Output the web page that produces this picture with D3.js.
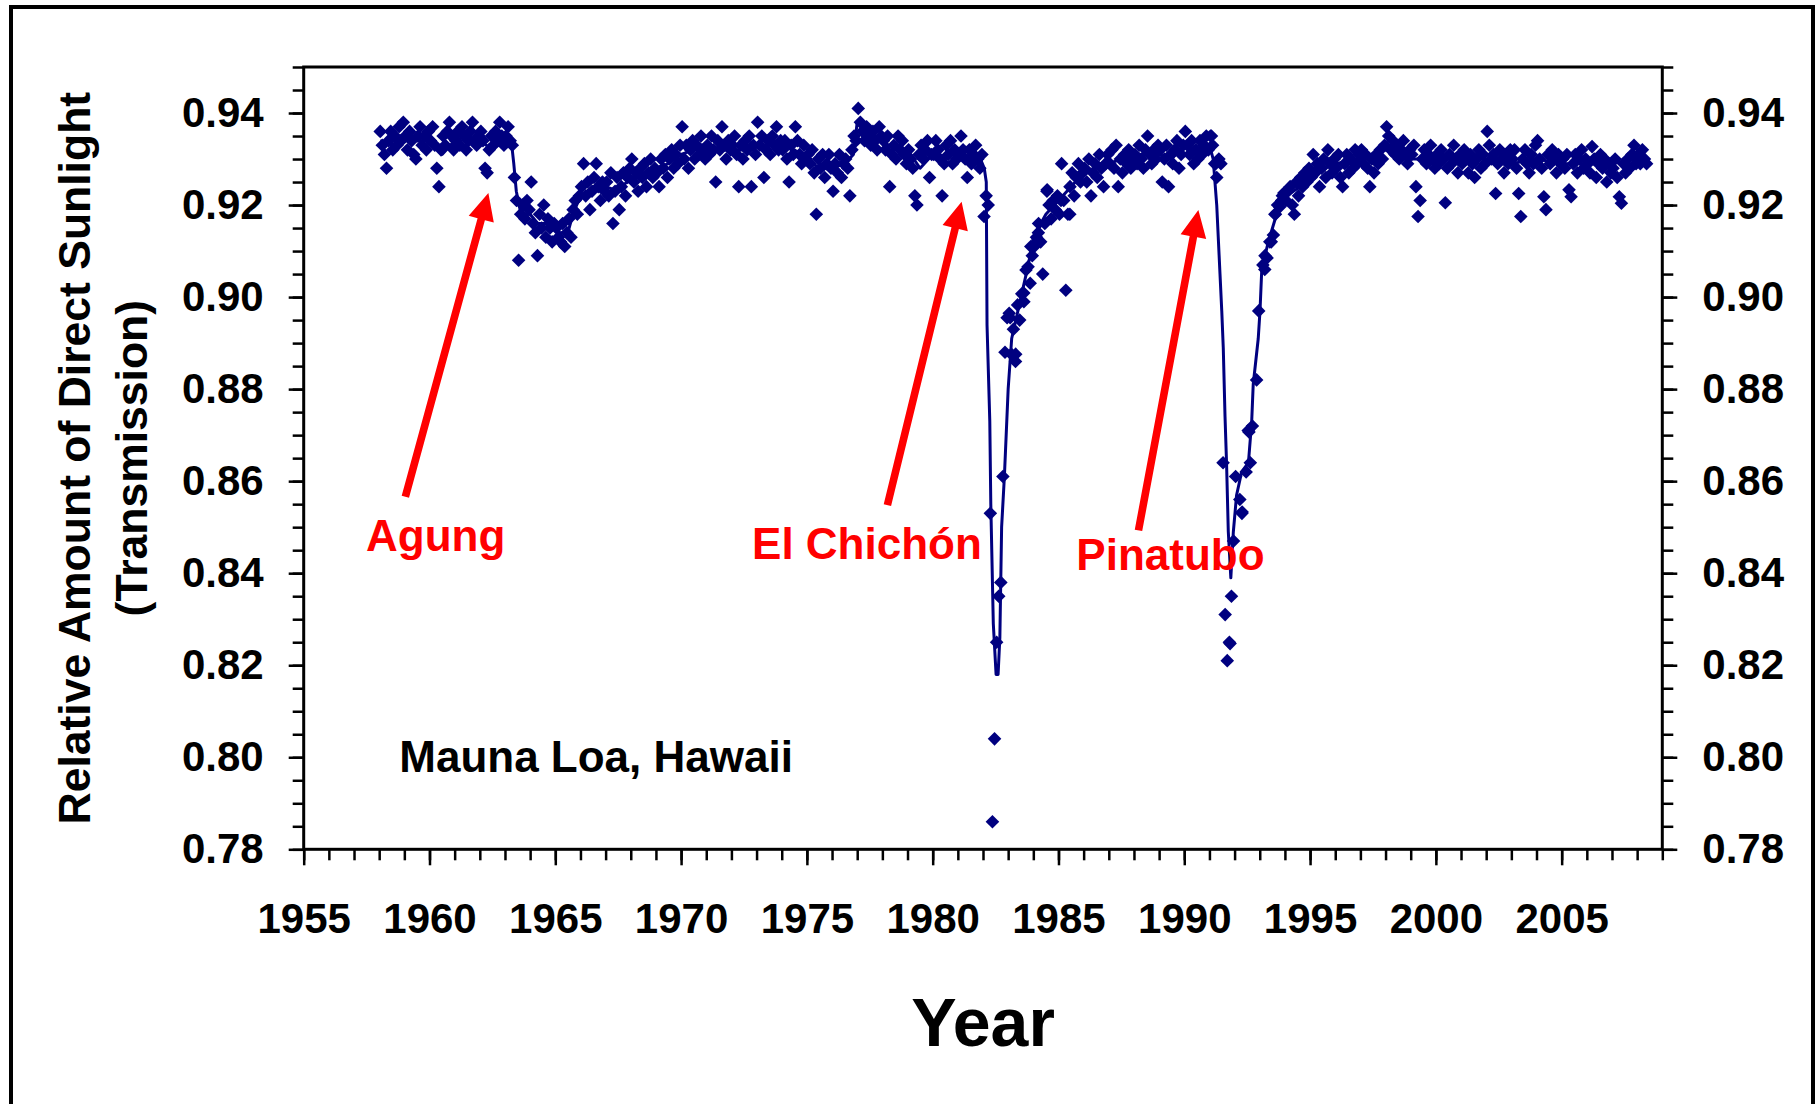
<!DOCTYPE html>
<html>
<head>
<meta charset="utf-8">
<script src="https://cdn.jsdelivr.net/npm/d3@7"></script>
<style>
  body { margin: 0; background: #fff; }
  text { font-family: "Liberation Sans", Arial, sans-serif; }
</style>
</head>
<body>
<svg id="chart" width="1819" height="1104"></svg>
<script>
///////////////    Data    ////////////////

// Monthly transmission at Mauna Loa, one row per year (Jan..Dec), null = no value
const firstYear = 1958;

const t1958 = [
  [0.936, 0.933, 0.931, 0.928, 0.934, 0.936, 0.932, 0.935, 0.933, 0.937, 0.934, 0.938],
  [0.935, 0.932, 0.936, 0.934, 0.931, 0.930, 0.935, 0.937, 0.933, 0.935, 0.932, 0.936],
  [0.934, 0.937, 0.933, 0.928, 0.924, 0.932, 0.935, 0.933, 0.936, 0.938, 0.935, 0.932],
  [0.934, 0.936, 0.933, 0.937, 0.935, 0.932, 0.934, 0.936, 0.938, 0.934, 0.933, 0.935],
  [0.936, 0.934, 0.928, 0.927, 0.932, 0.935, 0.933, 0.936, 0.934, 0.938, 0.935, 0.933],
  [0.935, 0.937, 0.934, 0.933, 0.926, 0.921, 0.908, 0.918, 0.920, 0.917, 0.921, 0.919],
  [0.925, 0.916, 0.914, 0.909, 0.918, 0.915, 0.920, 0.913, 0.917, 0.915, 0.912, 0.916],
  [0.915, 0.913, 0.912, 0.916, 0.911, 0.914, 0.917, 0.913, 0.919, 0.921, 0.918, 0.922],
  [0.924, 0.929, 0.922, 0.925, 0.919, 0.923, 0.926, 0.929, 0.924, 0.921, 0.925, 0.923],
  [0.925, 0.922, 0.927, 0.916, 0.923, 0.926, 0.919, 0.924, 0.927, 0.922, 0.926, 0.928],
];

const t1968 = [
  [0.930, 0.925, 0.927, 0.923, 0.928, 0.926, 0.929, 0.924, 0.927, 0.930, 0.926, 0.928],
  [0.927, 0.924, 0.930, 0.928, 0.931, 0.926, 0.930, 0.932, 0.928, 0.931, 0.929, 0.933],
  [0.937, 0.930, 0.933, 0.928, 0.932, 0.934, 0.930, 0.933, 0.931, 0.935, 0.932, 0.930],
  [0.933, 0.931, 0.935, 0.932, 0.925, 0.934, 0.932, 0.937, 0.933, 0.930, 0.934, 0.932],
  [0.933, 0.935, 0.931, 0.924, 0.933, 0.930, 0.934, 0.932, 0.935, 0.924, 0.933, 0.931],
  [0.938, 0.933, 0.935, 0.926, 0.932, 0.934, 0.931, 0.935, 0.933, 0.937, 0.932, 0.934],
  [0.932, 0.934, 0.930, 0.925, 0.933, 0.931, 0.937, 0.934, 0.931, 0.929, 0.933, 0.930],
  [0.931, 0.929, 0.932, 0.927, 0.918, 0.930, 0.928, 0.931, 0.926, 0.929, 0.931, 0.928],
  [0.923, 0.929, 0.927, 0.931, 0.926, 0.929, 0.930, 0.928, 0.922, 0.932, 0.935, 0.934],
  [0.941, 0.938, 0.936, 0.934, 0.937, 0.935, 0.933, 0.936, 0.934, 0.932, 0.937, 0.935],
];

const t1978 = [
  [0.934, 0.932, 0.935, 0.924, 0.931, 0.933, 0.930, 0.935, 0.932, 0.934, 0.931, 0.929],
  [0.932, 0.930, 0.928, 0.922, 0.920, 0.931, 0.933, 0.930, 0.932, 0.934, 0.926, 0.931],
  [0.931, 0.934, 0.932, 0.930, 0.922, 0.929, 0.933, 0.931, 0.934, 0.929, 0.932, 0.930],
  [0.931, 0.935, 0.932, 0.930, 0.926, 0.932, 0.929, 0.931, 0.933, 0.930, 0.928, 0.931],
  [0.9175, 0.922, 0.920, 0.853, 0.786, 0.804, 0.825, 0.835, 0.838, 0.861, 0.888, 0.8955],
  [0.8965, 0.8876, 0.893, 0.886, 0.8983, 0.895, 0.9007, 0.899, 0.9059, 0.9066, 0.903, 0.909],
  [0.911, 0.913, 0.916, 0.912, 0.905, 0.916, 0.923, 0.920, 0.917, 0.921, 0.919, 0.922],
  [0.918, 0.929, 0.921, 0.9015, 0.918, 0.924, 0.927, 0.922, 0.926, 0.929, 0.925, 0.927],
  [0.928, 0.925, 0.930, 0.922, 0.927, 0.929, 0.926, 0.931, 0.928, 0.924, 0.929, 0.931],
  [0.929, 0.932, 0.928, 0.933, 0.924, 0.930, 0.927, 0.931, 0.929, 0.932, 0.928, 0.930],
];

const t1988 = [
  [0.931, 0.929, 0.933, 0.930, 0.928, 0.932, 0.935, 0.931, 0.929, 0.932, 0.930, 0.933],
  [0.932, 0.925, 0.930, 0.933, 0.924, 0.931, 0.929, 0.932, 0.934, 0.928, 0.931, 0.933],
  [0.936, 0.933, 0.931, 0.934, 0.929, 0.932, 0.930, 0.934, 0.931, 0.933, 0.935, 0.932],
  [0.935, 0.933, 0.929, 0.926, 0.930, 0.929, 0.864, 0.831, 0.821, 0.825, 0.835, 0.847],
  [0.861, null, 0.856, 0.853, null, 0.862, 0.871, 0.864, 0.872, null, 0.882, 0.897],
  [null, 0.907, 0.909, 0.9085, null, 0.912, 0.9135, 0.918, 0.920, 0.9196, 0.921, 0.9226],
  [0.921, 0.923, 0.924, 0.920, 0.918, 0.925, 0.922, 0.926, 0.924, 0.927, 0.925, 0.928],
  [0.926, 0.931, 0.927, 0.929, 0.924, 0.928, 0.930, 0.926, 0.932, 0.929, 0.927, 0.930],
  [0.928, 0.931, 0.926, 0.924, 0.929, 0.931, 0.927, 0.930, 0.928, 0.932, 0.929, 0.931],
  [0.932, 0.929, 0.931, 0.928, 0.924, 0.930, 0.927, 0.931, 0.929, 0.932, 0.930, 0.933],
];

const t1998 = [
  [0.937, 0.935, 0.932, 0.934, 0.931, 0.933, 0.930, 0.932, 0.934, 0.931, 0.929, 0.932],
  [0.931, 0.933, 0.924, 0.9175, 0.921, 0.930, 0.932, 0.929, 0.931, 0.933, 0.930, 0.928],
  [0.931, 0.929, 0.932, 0.930, 0.9205, 0.928, 0.931, 0.929, 0.933, 0.930, 0.927, 0.931],
  [0.929, 0.932, 0.930, 0.927, 0.931, 0.929, 0.926, 0.930, 0.932, 0.928, 0.931, 0.929],
  [0.936, 0.933, 0.930, 0.931, 0.9225, 0.929, 0.932, 0.930, 0.927, 0.931, 0.929, 0.932],
  [0.930, 0.932, 0.928, 0.9225, 0.9175, 0.930, 0.932, 0.929, 0.927, 0.931, 0.929, 0.933],
  [0.934, 0.930, 0.928, 0.9218, 0.919, 0.931, 0.929, 0.932, 0.930, 0.927, 0.931, 0.929],
  [0.930, 0.928, 0.931, 0.9233, 0.9218, 0.929, 0.931, 0.927, 0.930, 0.932, 0.928, 0.930],
  [0.929, 0.927, 0.9327, 0.930, 0.926, 0.929, 0.931, 0.928, 0.930, 0.925, 0.929, 0.927],
  [0.928, 0.930, 0.926, 0.9218, 0.9204, 0.929, 0.927, 0.930, 0.928, 0.931, 0.933, 0.929],
  [0.931, 0.929, 0.932, 0.930, 0.929],
];

// Extra readings that fall between the monthly slots (dense parts of the recoveries)
const extraPoints = [
  [1983.08, 0.8955], [1983.3, 0.8876], [1983.62, 0.9009], [1983.9, 0.911],
  [1984.2, 0.914], [1984.55, 0.9233], [1985.1, 0.921], [1985.45, 0.918],
  [1991.08, 0.935], [1991.25, 0.929], [1991.82, 0.8247], [1992.3, 0.8533],
  [1992.57, 0.8707], [1993.2, 0.906], [1993.4, 0.912], [1993.6, 0.918], [1993.9, 0.922],
];

// Smoothed curve drawn through the points
const trendLine = [
  [1958.04, 0.934], [1958.5, 0.933], [1959.0, 0.934], [1959.5, 0.934], [1960.0, 0.934],
  [1960.5, 0.931], [1961.0, 0.934], [1961.5, 0.935], [1962.0, 0.934], [1962.5, 0.932],
  [1963.0, 0.935], [1963.25, 0.934], [1963.35, 0.929], [1963.45, 0.923], [1963.6, 0.919],
  [1963.8, 0.918], [1964.0, 0.918], [1964.3, 0.916], [1964.6, 0.916], [1964.9, 0.915],
  [1965.2, 0.914], [1965.5, 0.914], [1965.7, 0.918], [1966.0, 0.922], [1966.5, 0.924],
  [1967.0, 0.924], [1967.5, 0.923], [1968.0, 0.926], [1968.5, 0.927], [1969.0, 0.928],
  [1969.5, 0.929], [1970.0, 0.931], [1970.5, 0.932], [1971.0, 0.933], [1971.5, 0.932],
  [1972.0, 0.932], [1972.5, 0.932], [1973.0, 0.933], [1973.5, 0.933], [1974.0, 0.933],
  [1974.5, 0.932], [1975.0, 0.930], [1975.5, 0.928], [1976.0, 0.928], [1976.5, 0.929],
  [1976.85, 0.931], [1977.0, 0.938], [1977.25, 0.937], [1977.6, 0.935], [1978.0, 0.934],
  [1978.5, 0.932], [1979.0, 0.932], [1979.5, 0.928], [1980.0, 0.931], [1980.5, 0.930],
  [1981.0, 0.932], [1981.5, 0.930], [1981.9, 0.930], [1982.05, 0.928], [1982.13, 0.925],
  [1982.16, 0.894], [1982.27, 0.873], [1982.31, 0.855], [1982.41, 0.829], [1982.52, 0.818],
  [1982.6, 0.818], [1982.67, 0.826], [1982.74, 0.850], [1982.85, 0.861], [1983.0, 0.880],
  [1983.14, 0.891], [1983.47, 0.899], [1983.8, 0.907], [1984.0, 0.913], [1984.5, 0.918],
  [1985.0, 0.921], [1985.5, 0.924], [1986.0, 0.927], [1986.5, 0.928], [1987.0, 0.929],
  [1987.5, 0.930], [1988.0, 0.931], [1988.5, 0.931], [1989.0, 0.931], [1989.5, 0.930],
  [1990.0, 0.933], [1990.5, 0.932], [1991.0, 0.933], [1991.15, 0.930], [1991.22, 0.925],
  [1991.29, 0.920], [1991.42, 0.905], [1991.49, 0.897], [1991.55, 0.889], [1991.62, 0.874],
  [1991.68, 0.864], [1991.75, 0.849], [1991.85, 0.839], [1991.95, 0.849], [1992.08, 0.857],
  [1992.28, 0.862], [1992.55, 0.864], [1992.68, 0.873], [1992.74, 0.881], [1992.94, 0.891],
  [1993.01, 0.897], [1993.08, 0.906], [1993.21, 0.909], [1993.34, 0.912], [1993.67, 0.918],
  [1994.07, 0.922], [1994.6, 0.924], [1995.0, 0.926], [1995.5, 0.928], [1996.0, 0.929],
  [1997.0, 0.930], [1998.0, 0.932], [1999.0, 0.930], [2000.0, 0.930], [2001.0, 0.930],
  [2002.0, 0.931], [2003.0, 0.929], [2004.0, 0.930], [2005.0, 0.929], [2006.0, 0.929],
  [2007.0, 0.929], [2008.0, 0.930], [2008.33, 0.930],
];

// Axis tick labels
const yTicks = [0.78, 0.80, 0.82, 0.84, 0.86, 0.88, 0.90, 0.92, 0.94];
const xTicks = [1955, 1960, 1965, 1970, 1975, 1980, 1985, 1990, 1995, 2000, 2005];

// Eruption labels: name, label anchor (year, value), arrow tail and tip (year, value)
const volcanoes = ["Agung", "El Chichón", "Pinatubo"];
const labelAt = [[1957.48, 0.8448], [1972.82, 0.843], [1985.71, 0.8408]];
const arrowTail = [[1959.04, 0.8566], [1978.2, 0.8548], [1988.18, 0.8493]];
const arrowTip = [[1962.34, 0.9226], [1981.15, 0.9207], [1990.56, 0.9189]];

const siteLabel = "Mauna Loa, Hawaii";
const siteAt = [1958.8, 0.7968];

///////////////    Chart    ////////////////

const W = 1819, H = 1104;
const plot = { left: 303.7, right: 1662.3, top: 67, bottom: 849.3 };
const navy = "#000080";
const font = '"Liberation Sans", Arial, sans-serif';

const svg = d3.select("#chart");

const x = d3.scaleLinear().domain([1955, 2009]).range([plot.left, plot.right]);
const y = d3.scaleLinear().domain([0.78, 0.95]).range([plot.bottom, plot.top]);

svg.append("rect").attr("width", W).attr("height", H).attr("fill", "#fff");

// Outer frame, open at the bottom as in the original picture
svg
  .append("path")
  .attr("d", `M11,${H + 20} V7 H1813 V${H + 20}`)
  .attr("fill", "none")
  .attr("stroke", "#000")
  .attr("stroke-width", 4);

// Monthly points -> [year, value]
function monthly(rows, startYear) {
  let out = [];
  rows.forEach((row, i) => {
    row.forEach((v, m) => {
      if (v !== null) out.push([startYear + i + (m + 0.5) / 12, v]);
    });
  });
  return out;
}

const points = [].concat(
  monthly(t1958, firstYear),
  monthly(t1968, firstYear + 10),
  monthly(t1978, firstYear + 20),
  monthly(t1988, firstYear + 30),
  monthly(t1998, firstYear + 40),
  extraPoints
);

// Axes
const minorY = d3.range(0.78, 0.9501, 0.005);
const minorX = d3.range(1955, 2010, 1);

function styleAxis(g) {
  g.select(".domain").remove();
  g.selectAll(".tick line").attr("stroke", "#000").attr("stroke-width", 2.5);
  g.selectAll(".tick text")
    .attr("fill", "#000")
    .attr("font-family", font)
    .attr("font-size", 42)
    .attr("font-weight", "bold");
}

svg.append("g")
  .attr("transform", `translate(${plot.left},0)`)
  .call(d3.axisLeft(y).tickValues(minorY).tickSize(11).tickFormat(""))
  .call(styleAxis);
svg.append("g")
  .attr("transform", `translate(${plot.left},0)`)
  .call(d3.axisLeft(y).tickValues(yTicks).tickSize(15).tickPadding(25).tickFormat(d3.format(".2f")))
  .call(styleAxis);

svg.append("g")
  .attr("transform", `translate(${plot.right},0)`)
  .call(d3.axisRight(y).tickValues(minorY).tickSize(11).tickFormat(""))
  .call(styleAxis);
svg.append("g")
  .attr("transform", `translate(${plot.right},0)`)
  .call(d3.axisRight(y).tickValues(yTicks).tickSize(15).tickPadding(25).tickFormat(d3.format(".2f")))
  .call(styleAxis);

svg.append("g")
  .attr("transform", `translate(0,${plot.bottom})`)
  .call(d3.axisBottom(x).tickValues(minorX).tickSize(11).tickFormat(""))
  .call(styleAxis);
svg.append("g")
  .attr("transform", `translate(0,${plot.bottom})`)
  .call(d3.axisBottom(x).tickValues(xTicks).tickSize(16).tickPadding(38).tickFormat(d3.format("d")))
  .call(styleAxis);

// Plot frame
svg
  .append("rect")
  .attr("x", plot.left)
  .attr("y", plot.top)
  .attr("width", plot.right - plot.left)
  .attr("height", plot.bottom - plot.top)
  .attr("fill", "none")
  .attr("stroke", "#000")
  .attr("stroke-width", 3);

// Smoothed line
svg
  .append("path")
  .datum(trendLine)
  .attr("fill", "none")
  .attr("stroke", navy)
  .attr("stroke-width", 3)
  .attr("stroke-linejoin", "round")
  .attr("d", d3.line().x((d) => x(d[0])).y((d) => y(d[1])));

// Diamond markers
svg
  .append("g")
  .selectAll("path")
  .data(points)
  .enter()
  .append("path")
  .attr("d", "M0,-6.8L6.8,0L0,6.8L-6.8,0Z")
  .attr("transform", (d) => `translate(${x(d[0])},${y(d[1])})`)
  .attr("fill", navy);

// Arrows
function arrowPath(x1, y1, x2, y2) {
  const len = Math.hypot(x2 - x1, y2 - y1);
  const ux = (x2 - x1) / len, uy = (y2 - y1) / len;
  const px = -uy, py = ux;
  const sw = 3.8, hw = 13, hl = 27;
  const bx = x2 - ux * hl, by = y2 - uy * hl;
  const pts = [
    [x1 + px * sw, y1 + py * sw],
    [bx + px * sw, by + py * sw],
    [bx + px * hw, by + py * hw],
    [x2, y2],
    [bx - px * hw, by - py * hw],
    [bx - px * sw, by - py * sw],
    [x1 - px * sw, y1 - py * sw],
  ];
  return "M" + pts.map((p) => p.join(",")).join("L") + "Z";
}

volcanoes.forEach((name, i) => {
  svg
    .append("path")
    .attr("d", arrowPath(x(arrowTail[i][0]), y(arrowTail[i][1]), x(arrowTip[i][0]), y(arrowTip[i][1])))
    .attr("fill", "#ff0000");
  svg
    .append("text")
    .attr("x", x(labelAt[i][0]))
    .attr("y", y(labelAt[i][1]))
    .attr("fill", "#ff0000")
    .attr("font-size", 44)
    .attr("font-weight", "bold")
    .text(name);
});

svg
  .append("text")
  .attr("x", x(siteAt[0]))
  .attr("y", y(siteAt[1]))
  .attr("fill", "#000")
  .attr("font-size", 44)
  .attr("font-weight", "bold")
  .text(siteLabel);

// Axis titles
const midY = (plot.top + plot.bottom) / 2;
svg
  .append("text")
  .attr("transform", `translate(90,${midY}) rotate(-90)`)
  .attr("text-anchor", "middle")
  .attr("font-size", 44.5)
  .attr("font-weight", "bold")
  .text("Relative Amount of Direct Sunlight");
svg
  .append("text")
  .attr("transform", `translate(147,${midY}) rotate(-90)`)
  .attr("text-anchor", "middle")
  .attr("font-size", 44.5)
  .attr("font-weight", "bold")
  .text("(Transmission)");

svg
  .append("text")
  .attr("x", (plot.left + plot.right) / 2)
  .attr("y", 1046)
  .attr("text-anchor", "middle")
  .attr("font-size", 68)
  .attr("font-weight", "bold")
  .text("Year");
</script>
</body>
</html>
